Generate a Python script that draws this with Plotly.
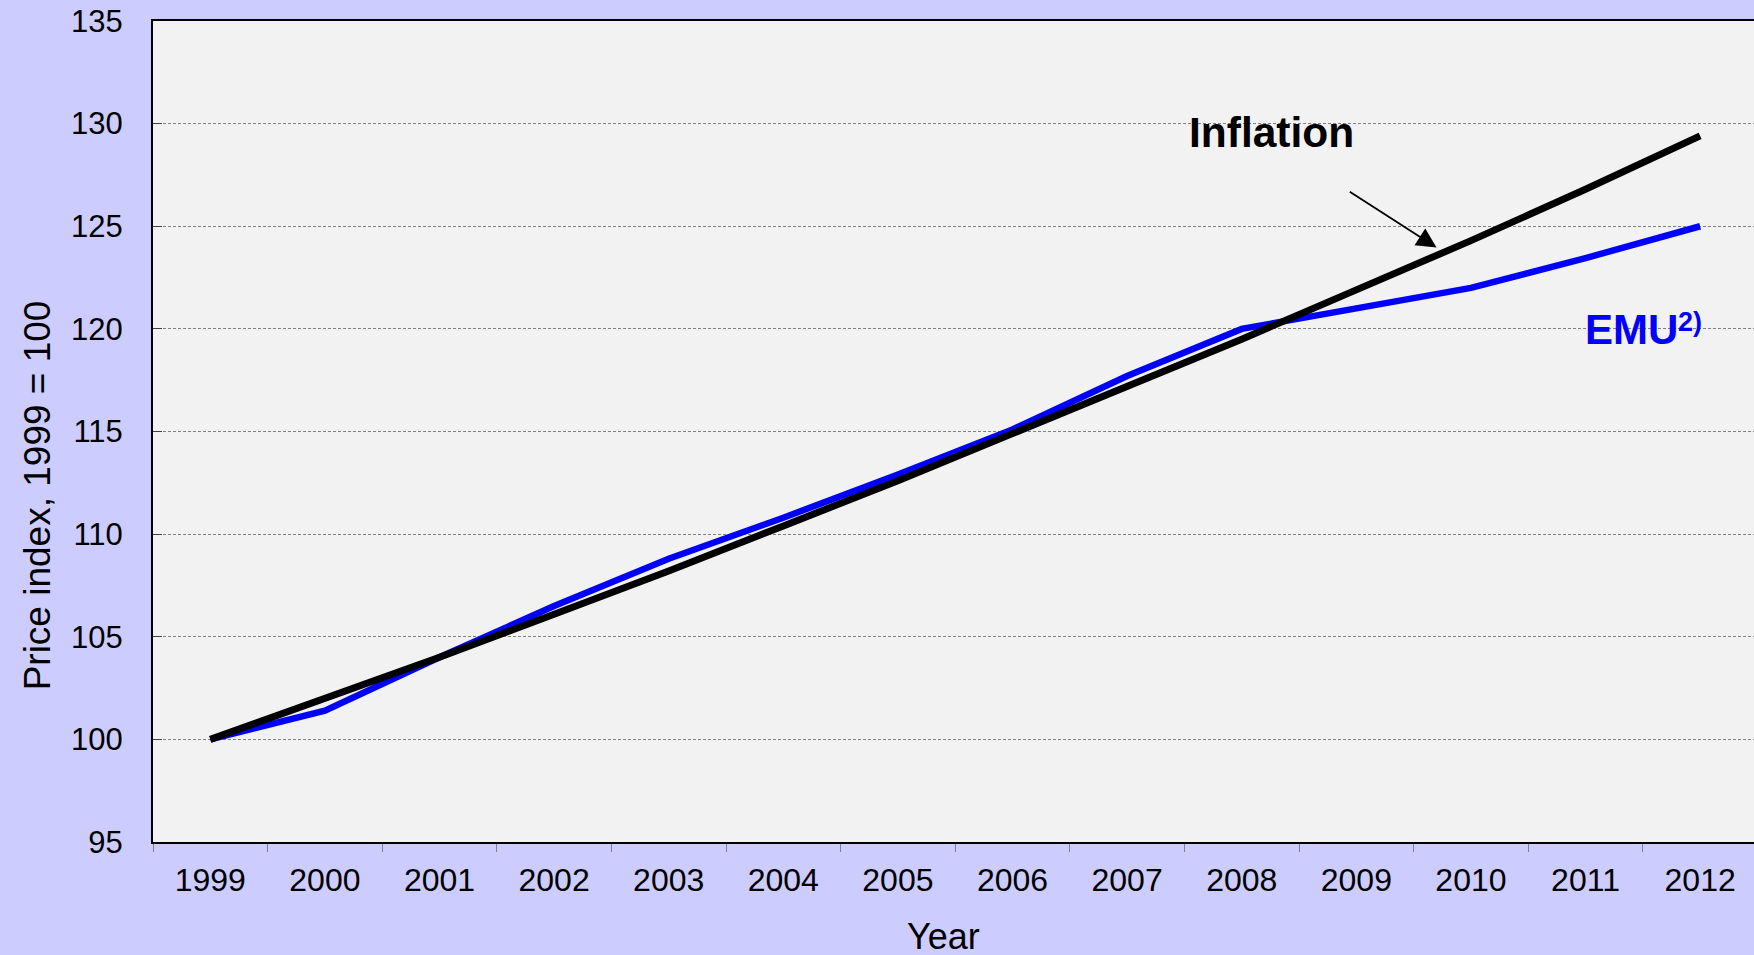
import plotly.graph_objects as go

years = ["1999", "2000", "2001", "2002", "2003", "2004", "2005",
         "2006", "2007", "2008", "2009", "2010", "2011", "2012"]
inflation = [100.0, 102.0, 104.0, 106.1, 108.2, 110.4, 112.6,
             114.9, 117.2, 119.5, 121.9, 124.3, 126.8, 129.4]
emu = [100.0, 101.4, 104.0, 106.5, 108.8, 110.8, 112.9,
       115.1, 117.7, 120.0, 121.0, 122.0, 123.45, 125.0]

FONT = "Arial, Liberation Sans, sans-serif"

fig = go.Figure()
fig.add_trace(go.Scatter(x=years, y=emu, mode="lines", name="EMU",
                         line=dict(color="#0000FF", width=6.5)))
fig.add_trace(go.Scatter(x=years, y=inflation, mode="lines", name="Inflation",
                         line=dict(color="#000000", width=7)))

fig.update_layout(
    width=1754, height=955,
    margin=dict(l=153, r=0, t=21, b=113),
    paper_bgcolor="#CCCCFF",
    plot_bgcolor="#F2F2F2",
    showlegend=False,
    font=dict(family=FONT, size=32, color="#000000"),
    xaxis=dict(
        type="category",
        range=[-0.5, 13.47],
        tickson="boundaries",
        ticks="outside", ticklen=8, tickcolor="#808080", tickwidth=1,
        showgrid=False,
        showline=True, linecolor="#000000", linewidth=2, mirror=True,
        tickfont=dict(size=32),
        ticklabelstandoff=9,
        zeroline=False,
    ),
    yaxis=dict(
        range=[95, 135],
        tickvals=[95, 100, 105, 110, 115, 120, 125, 130, 135],
        ticks="inside", ticklen=9, tickcolor="#404040", tickwidth=1,
        showgrid=True, gridcolor="#808080", gridwidth=1, griddash="3px,2px",
        showline=True, linecolor="#000000", linewidth=2,
        tickfont=dict(size=31),
        ticklabelstandoff=22,
        zeroline=False,
    ),
)

# Axis titles
fig.add_annotation(text="Price index, 1999 = 100", xref="paper", yref="paper",
                   x=-0.0721, y=0.4217, xanchor="center", yanchor="middle",
                   textangle=-90, showarrow=False, font=dict(size=37))
fig.add_annotation(text="Year", xref="paper", yref="paper",
                   x=0.494, y=-0.1154, xanchor="center", yanchor="middle",
                   showarrow=False, font=dict(size=36))

# Series labels
fig.add_annotation(text="<b>Inflation</b>", x=8.52, y=128.33, xref="x", yref="y",
                   xanchor="left", yanchor="bottom", showarrow=False,
                   font=dict(size=42.5, color="#000000"))
fig.add_annotation(text="<b>EMU</b>", x=11.98, y=118.73, xref="x", yref="y",
                   xanchor="left", yanchor="bottom", showarrow=False,
                   font=dict(size=42, color="#0000FF"))
fig.add_annotation(text="<b>2)</b>", x=12.79, y=119.5, xref="x", yref="y",
                   xanchor="left", yanchor="bottom", showarrow=False,
                   font=dict(size=27, color="#0000FF"))

# Arrow
fig.add_annotation(text="", x=10.70, y=123.96, ax=9.93, ay=126.73,
                   xref="x", yref="y", axref="x", ayref="y",
                   showarrow=True, arrowhead=2, arrowsize=2.2, arrowwidth=1.8,
                   arrowcolor="#000000")

fig.write_html("out.html", config={"displayModeBar": False},
               post_script="document.body.style.margin='0px';")
